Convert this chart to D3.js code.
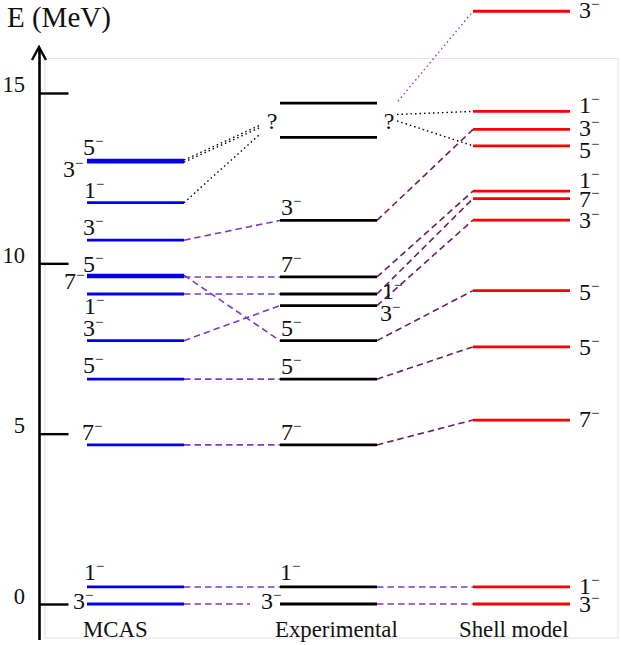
<!DOCTYPE html>
<html>
<head>
<meta charset="utf-8">
<script src="https://cdn.jsdelivr.net/npm/d3@7"></script>
<style>
html,body{margin:0;padding:0;background:#fff}
svg{display:block}
text{font-family:"Liberation Serif",serif;fill:#111}
</style>
</head>
<body>
<svg id="c" width="621" height="645"></svg>
<script>
// Data
const columns = ["MCAS", "Experimental", "Shell model"];
const tickValues = [0, 5, 10, 15];
const mcasE = [0, 0.5, 4.67, 6.6, 7.73, 9.1, 9.6, 9.65, 10.68, 11.78, 12.97, 13.03];
const mcasJ = ["3","1","7","5","3","1","7","5","3","1","3","5"];
const expE = [0, 0.5, 4.67, 6.6, 7.73, 8.76, 9.1, 9.6, 11.26, 13.7, 14.7];
const expJ = ["3","1","7","5","5","3","1","7","3",null,null];
const shellE = [0, 0.5, 5.4, 7.55, 9.2, 11.27, 11.9, 12.12, 13.45, 13.93, 14.46, 17.4];
const shellJ = ["3","1","7","5","5","3","7","1","5","3","1","3"];
// Links: [from level, to level] between neighbouring columns
const mcasToExp = [[1,1],[2,2],[3,3],[4,5],[5,6],[6,7],[7,4],[8,8]];
const expToShell = [[2,2],[3,3],[4,4],[5,5],[6,6],[7,7],[8,9]];
const expToShellFlat = [[0,0],[1,1]];
// "?" assignments: levels, and the energy where the dotted line meets the "?"
const questionE = [13.95, 13.77];
const mcasQuery = [[10,14.0],[11,14.07],[9,13.82]];
const shellQuery = [[10,14.37],[8,14.18]];
const shellPurple = 11;

// Layout, separate from the data
const W = 621, H = 645;
const y = d3.scaleLinear().domain([0, 15]).range([604, 93]);
const colStart = d3.scalePoint().domain(columns).range([87, 473]);
const colW = 97;
const colors = {MCAS:"#0000ee", Experimental:"#000", "Shell model":"#f00"};
const LIGHT = "#7a3cc8", DARK = "#6b1f66", VIOLET = "#a63ce0";
const svg = d3.select("#c");

// page frame
svg.append("rect").attr("x",45).attr("y",58.5).attr("width",573).attr("height",579.5)
   .attr("fill","none").attr("stroke","#e4e4e4").attr("stroke-width",1);

// axis
const axis = d3.axisLeft(y).tickValues(tickValues).tickSizeInner(-29).tickSizeOuter(0).tickPadding(0);
const ag = svg.append("g").attr("transform","translate(39.5,0)").call(axis);
ag.select(".domain").attr("d",`M0,640V48`).attr("stroke","#000").attr("stroke-width",2.6).attr("fill","none");
ag.selectAll(".tick line").attr("stroke","#000").attr("stroke-width",2.4);
ag.selectAll(".tick text").attr("x",-14.5).attr("dy",d=>d===15?"-2px":"-1px").attr("y",0)
  .style("font-family","'Liberation Serif',serif").style("font-size","22.5px").attr("fill","#111").attr("text-anchor","end");
svg.append("path").attr("d","M32,60L39,47L46,60").attr("fill","none").attr("stroke","#000").attr("stroke-width",2.4);
svg.append("text").attr("x",7).attr("y",27).attr("font-size",29).text("E (MeV)");

// connectors
function link(x1,y1,x2,y2,color,dash,w){
  svg.append("line").attr("x1",x1).attr("y1",y1).attr("x2",x2).attr("y2",y2)
     .attr("stroke",color).attr("stroke-width",w||1.6).attr("stroke-dasharray",dash);
}
const [c0,c1,c2] = columns.map(colStart);
const DASH="6.5,4", DOT="1.5,3";
mcasToExp.forEach(([a,b])=>link(c0+colW,y(mcasE[a]),c1,y(expE[b]),LIGHT,DASH));
link(c0+colW,y(mcasE[0]),250,y(expE[0]),LIGHT,DASH);
expToShellFlat.forEach(([a,b])=>link(c1+colW,y(expE[a]),c2,y(shellE[b]),LIGHT,DASH));
expToShell.forEach(([a,b])=>link(c1+colW,y(expE[a]),c2,y(shellE[b]),DARK,DASH));
mcasQuery.forEach(([a,q])=>link(c0+colW,y(mcasE[a]),261,y(q),"#000",DOT,1.4));
shellQuery.forEach(([b,q])=>link(397,y(q),c2,y(shellE[b]),"#000",DOT,1.4));
link(398,y(14.76),c2,y(shellE[shellPurple]),VIOLET,DOT,1.5);

// levels
function levels(col,es){
  svg.append("g").selectAll("line").data(es).join("line")
    .attr("x1",colStart(col)).attr("x2",colStart(col)+colW)
    .attr("y1",d=>y(d)).attr("y2",d=>y(d))
    .attr("stroke",colors[col]).attr("stroke-width",2.8);
}
levels(columns[0],mcasE); levels(columns[1],expE); levels(columns[2],shellE);

// spin labels: offset from the level's left end / level's y
const mcasOff = [[-14,5],[-3,-7],[-5,-5],[-4,-6],[-4,-5],[-3,20],[-23,12],[-4,-3],[-4,-5],[-3,-5],[-24,15],[-4,-5]];
const expOff = [[-19,5],[0,-7],[1,-5],[1,-5],[1,-5],[100,15],[102,5],[1,-5],[1,-5]];
const shellOff = [[106,8],[106,7],[106,7],[106,8],[106,9],[106,8],[106,8],[106,-3],[106,12],[106,7],[106,2],[106,7]];
function spin(col,es,js,off){
  const g = svg.append("g");
  es.forEach((e,i)=>{
    if(!js[i]) return;
    const t = g.append("text").attr("x",colStart(col)+off[i][0]).attr("y",y(e)+off[i][1]).attr("font-size",24);
    t.append("tspan").text(js[i]);
    t.append("tspan").attr("dy",-9).attr("font-size",15).text("\u2212");
  });
}
spin(columns[0],mcasE,mcasJ,mcasOff);
spin(columns[1],expE,expJ,expOff);
spin(columns[2],shellE,shellJ,shellOff);

// question marks
[272,389].forEach(x=>svg.append("text").attr("x",x).attr("y",y(questionE[0])+0.5).attr("text-anchor","middle").attr("font-size",24).text("?"));

// column names
const nameX = [83,275,459];
columns.forEach((c,i)=>svg.append("text").attr("x",nameX[i]).attr("y",637).attr("font-size",22.8).text(c));
</script>
</body>
</html>
